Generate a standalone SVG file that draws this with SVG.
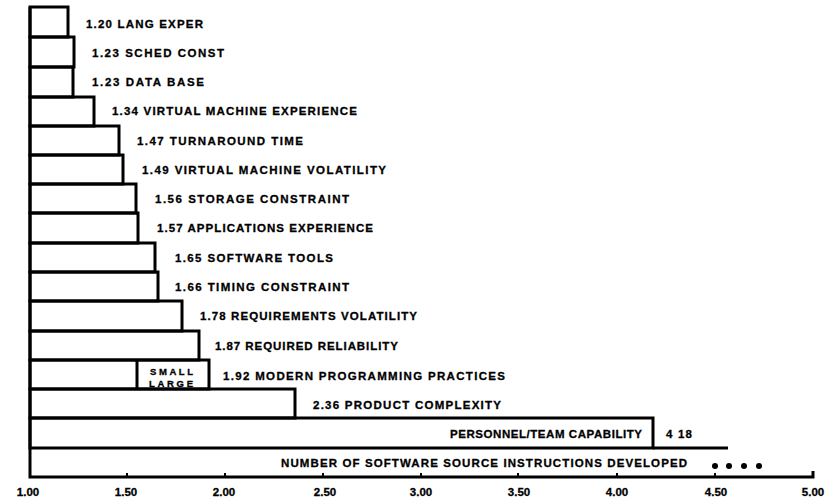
<svg xmlns="http://www.w3.org/2000/svg" width="827" height="503" viewBox="0 0 827 503">
<style>
  .bar { fill: none; stroke: #000; stroke-width: 3; stroke-linejoin: miter; }
  .ln { fill: none; stroke: #000; stroke-width: 3; }
  .tk { fill: none; stroke: #000; stroke-width: 2; }
  text { font-family: "Liberation Sans", Arial, sans-serif; font-weight: bold; fill: #000; stroke: #000; stroke-width: 0.3; }
  .lb { font-size: 11.5px; }
  .sm { font-size: 9.5px; }
  .ax { font-size: 11.5px; text-anchor: middle; }
</style>
<rect width="827" height="503" fill="#fff"/>

<g id="lang-exper"><rect class="bar" x="30" y="7" width="38" height="30"/><text class="lb" x="86" y="27.5" textLength="117" lengthAdjust="spacing">1.20 LANG EXPER</text></g>
<g id="sched-const"><rect class="bar" x="30" y="37" width="44" height="30"/><text class="lb" x="92" y="56.5" textLength="132" lengthAdjust="spacing">1.23 SCHED CONST</text></g>
<g id="data-base"><rect class="bar" x="30" y="67" width="43" height="30"/><text class="lb" x="92" y="86" textLength="112" lengthAdjust="spacing">1.23 DATA BASE</text></g>
<g id="vm-experience"><rect class="bar" x="30" y="97" width="64" height="29"/><text class="lb" x="112" y="115" textLength="245" lengthAdjust="spacing">1.34 VIRTUAL MACHINE EXPERIENCE</text></g>
<g id="turnaround"><rect class="bar" x="30" y="126" width="89" height="29"/><text class="lb" x="137" y="145" textLength="166" lengthAdjust="spacing">1.47 TURNAROUND TIME</text></g>
<g id="vm-volatility"><rect class="bar" x="30" y="155" width="93" height="29"/><text class="lb" x="142" y="174" textLength="244" lengthAdjust="spacing">1.49 VIRTUAL MACHINE VOLATILITY</text></g>
<g id="storage"><rect class="bar" x="30" y="184" width="106" height="29"/><text class="lb" x="155" y="203" textLength="194" lengthAdjust="spacing">1.56 STORAGE CONSTRAINT</text></g>
<g id="applications"><rect class="bar" x="30" y="213" width="108" height="30"/><text class="lb" x="157" y="232" textLength="216" lengthAdjust="spacing">1.57 APPLICATIONS EXPERIENCE</text></g>
<g id="software-tools"><rect class="bar" x="30" y="243" width="125" height="29"/><text class="lb" x="175" y="261.5" textLength="158" lengthAdjust="spacing">1.65 SOFTWARE TOOLS</text></g>
<g id="timing"><rect class="bar" x="30" y="272" width="128" height="29"/><text class="lb" x="175" y="290.5" textLength="174" lengthAdjust="spacing">1.66 TIMING CONSTRAINT</text></g>
<g id="req-volatility"><rect class="bar" x="30" y="301" width="152" height="30"/><text class="lb" x="200" y="320" textLength="217" lengthAdjust="spacing">1.78 REQUIREMENTS VOLATILITY</text></g>
<g id="reliability"><rect class="bar" x="30" y="331" width="169" height="29"/><text class="lb" x="215" y="349.5" textLength="183" lengthAdjust="spacing">1.87 REQUIRED RELIABILITY</text></g>
<g id="mpp"><rect class="bar" x="30" y="360" width="179" height="29"/><line class="ln" x1="137" y1="360" x2="137" y2="389"/>
  <text class="sm" x="150" y="374.5" textLength="43" lengthAdjust="spacing">SMALL</text>
  <text class="sm" x="149" y="386.5" textLength="44" lengthAdjust="spacing">LARGE</text>
  <text class="lb" x="223" y="380" textLength="282" lengthAdjust="spacing">1.92 MODERN PROGRAMMING PRACTICES</text></g>
<g id="complexity"><rect class="bar" x="30" y="389" width="265" height="29"/><text class="lb" x="313" y="409" textLength="188" lengthAdjust="spacing">2.36 PRODUCT COMPLEXITY</text></g>
<g id="personnel"><rect class="bar" x="30" y="418" width="623" height="30"/><line class="ln" x1="653" y1="448" x2="728" y2="448"/>
  <text class="lb" x="450" y="437.5" textLength="192" lengthAdjust="spacing">PERSONNEL/TEAM CAPABILITY</text>
  <text class="lb" x="666" y="437.5" textLength="26" lengthAdjust="spacing">4 18</text></g>
<g id="size">
  <text class="lb" x="281" y="467" textLength="406" lengthAdjust="spacing">NUMBER OF SOFTWARE SOURCE INSTRUCTIONS DEVELOPED</text>
  <circle cx="715" cy="466" r="3"/><circle cx="729" cy="466" r="3"/><circle cx="744" cy="466" r="3"/><circle cx="759" cy="466" r="3"/>
</g>

<g id="axis">
  <path class="ln" d="M30,7 V477 H813 V471"/>
  <path class="tk" d="M127,477 v-4 M225,477 v-4 M323,477 v-4 M421,477 v-4 M518,477 v-4 M617,477 v-4 M715,477 v-4"/>
  <text class="ax" x="28" y="496">1.00</text>
  <text class="ax" x="126" y="496">1.50</text>
  <text class="ax" x="224" y="496">2.00</text>
  <text class="ax" x="325" y="496">2.50</text>
  <text class="ax" x="421" y="496">3.00</text>
  <text class="ax" x="519" y="496">3.50</text>
  <text class="ax" x="617" y="496">4.00</text>
  <text class="ax" x="716" y="496">4.50</text>
  <text class="ax" x="813" y="496">5.00</text>
</g>
</svg>
